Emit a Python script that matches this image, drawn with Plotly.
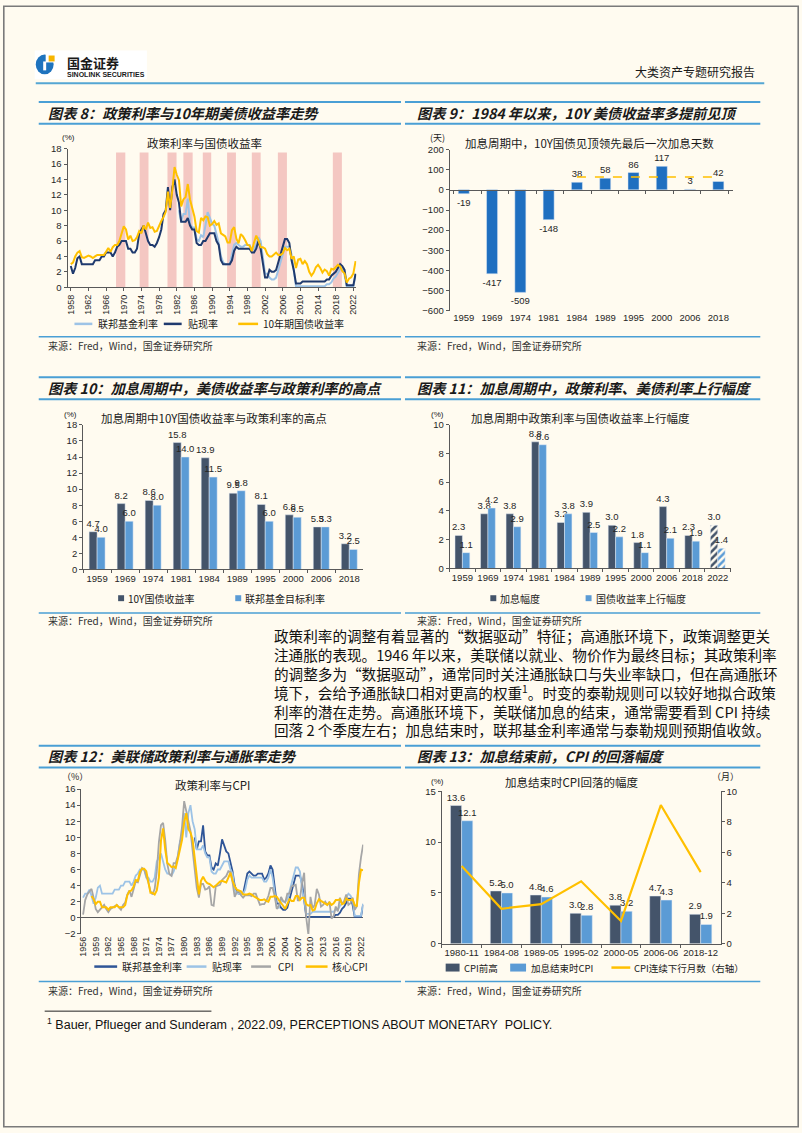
import plotly.graph_objects as go

W, H = 802, 1133
def X(p): return p / W
def Y(p): return 1 - p / H

BG = "#FFFBF0"
LAT = "Liberation Sans, Arial, Noto Sans CJK SC, sans-serif"
CJK = "Noto Sans CJK SC, Liberation Sans, sans-serif"
TXT = "#1a1a1a"
RULE = "#4A9FD5"
AX = "#595959"

# ======================= DATA =======================
# Semi-annual observations (Jan / Jul), %
discount_start = 1956.0
discount_rate = [
    2.50, 3.00,  3.00, 3.50,  2.75, 1.75,  2.50, 3.75,  4.00, 3.00,   # 1956-1960
    3.00, 3.00,  3.00, 3.00,  3.00, 3.50,  3.50, 3.50,  4.00, 4.00,   # 1961-1965
    4.50, 4.50,  4.50, 4.00,  4.50, 5.25,  5.50, 6.00,  6.00, 6.00,   # 1966-1970
    5.00, 5.00,  4.50, 4.50,  5.00, 7.00,  7.50, 8.00,  7.00, 6.00,   # 1971-1975
    5.50, 5.50,  5.25, 5.75,  6.50, 7.50,  9.50, 10.00, 13.00, 10.00, # 1976-1980
    13.00, 14.00, 12.00, 11.00, 8.50, 8.50, 8.50, 9.00, 8.00, 7.50,   # 1981-1985
    7.50, 5.75,  5.50, 5.50,  6.00, 6.00,  6.50, 7.00,  7.00, 7.00,   # 1986-1990
    6.00, 5.50,  3.50, 3.00,  3.00, 3.00,  3.00, 3.50,  4.75, 5.25,   # 1991-1995
    5.00, 5.00,  5.00, 5.00,  5.00, 5.00,  4.50, 4.50,  5.00, 6.00,   # 1996-2000
    5.00, 3.25,  1.25, 1.25,  2.25, 2.00,  2.00, 2.25,  3.25, 4.25,   # 2001-2005
    5.25, 6.25,  6.25, 5.75,  3.50, 2.25,  0.50, 0.50,  0.50, 0.75,   # 2006-2010
    0.75, 0.75,  0.75, 0.75,  0.75, 0.75,  0.75, 0.75,  0.75, 0.75,   # 2011-2015
    1.00, 1.00,  1.50, 1.75,  2.00, 2.50,  3.00, 2.75,  2.25, 0.25,   # 2016-2020
    0.25, 0.25,  0.25, 1.75,                                          # 2021-2022
]
fed_target_start = 1982.5
fed_target = [
    10.00,                                                            # 1982 H2
    8.50, 9.50,  9.50, 11.50,  8.25, 7.75,  7.75, 6.25,  6.00, 6.75,  # 1983-1987
    6.50, 8.00,  9.75, 9.00,  8.25, 8.00,  6.75, 5.75,  4.00, 3.25,   # 1988-1992
    3.00, 3.00,  3.00, 4.25,  5.50, 5.75,  5.50, 5.25,  5.25, 5.50,   # 1993-1997
    5.50, 5.50,  4.75, 5.00,  5.50, 6.50,  6.00, 3.75,  1.75, 1.75,   # 1998-2002
    1.25, 1.00,  1.00, 1.25,  2.25, 3.25,  4.25, 5.25,  5.25, 5.25,   # 2003-2007
    4.25, 2.00,  0.125, 0.125, 0.125, 0.125, 0.125, 0.125, 0.125, 0.125,  # 2008-2012
    0.125, 0.125, 0.125, 0.125, 0.125, 0.125, 0.375, 0.375, 0.625, 1.125, # 2013-2017
    1.375, 1.875, 2.375, 2.375, 1.625, 0.125, 0.125, 0.125, 0.125, 1.625, # 2018-2022
]
ust_start = 1958.0
ust10y = [
    3.0, 3.2,  4.0, 4.5,  4.7, 3.9,  3.8, 3.9,  4.1, 4.0,    # 1958-1962
    3.8, 4.0,  4.2, 4.2,  4.2, 4.2,  4.6, 5.1,  4.6, 5.2,    # 1963-1967
    5.5, 5.5,  6.0, 7.0,  7.9, 7.5,  6.2, 6.7,  6.0, 6.1,    # 1968-1972
    6.5, 7.3,  7.0, 8.0,  7.5, 8.4,  7.7, 7.8,  7.2, 7.3,    # 1973-1977
    8.0, 8.6,  9.1, 9.8,  12.4, 10.3, 12.6, 15.6, 14.6, 13.9,# 1978-1982
    10.5, 11.4, 11.7, 13.4, 11.4, 10.3, 9.2, 7.3, 7.1, 9.0,  # 1983-1987
    8.7, 9.2,  9.1, 8.0,  8.2, 8.6,  8.1, 8.3,  7.0, 6.8,    # 1988-1992
    6.6, 5.8,  5.8, 7.4,  7.8, 6.3,  5.7, 6.9,  6.6, 6.1,    # 1993-1997
    5.5, 5.4,  4.7, 5.8,  6.7, 6.1,  5.2, 5.2,  5.0, 4.3,    # 1998-2002
    4.0, 4.0,  4.2, 4.5,  4.2, 4.2,  4.4, 5.1,  4.8, 5.0,    # 2003-2007
    3.7, 4.0,  2.5, 3.6,  3.7, 3.0,  3.4, 3.0,  2.0, 1.5,    # 2008-2012
    1.9, 2.6,  2.9, 2.5,  1.9, 2.3,  2.1, 1.5,  2.4, 2.3,    # 2013-2017
    2.6, 2.9,  2.7, 2.1,  1.8, 0.6,  1.1, 1.3,  1.8, 3.4,    # 2018-2022
]
cpi_start = 1956.0
cpi = [
    0.4, 2.2,  2.9, 3.2,  3.6, 2.5,  1.1, 0.7,  1.0, 1.4,    # 1956-1960
    1.6, 1.1,  0.7, 1.1,  1.3, 1.4,  1.6, 1.3,  1.0, 1.6,    # 1961-1965
    1.9, 2.9,  3.4, 2.6,  3.6, 4.5,  4.4, 5.4,  6.2, 6.0,    # 1966-1970
    5.3, 4.4,  3.3, 2.9,  3.6, 5.7,  9.4, 11.5, 11.8, 9.7,   # 1971-1975
    6.7, 5.4,  5.2, 6.8,  6.8, 7.7,  9.3, 11.3, 14.5, 13.1,  # 1976-1980
    11.8, 10.8, 8.4, 6.4, 3.7, 2.5,  4.2, 4.2,  3.5, 3.6,    # 1981-1985
    3.9, 1.6,  1.5, 3.9,  4.0, 4.1,  4.7, 5.0,  5.2, 5.8,    # 1986-1990
    5.7, 4.4,  2.6, 3.2,  3.3, 2.8,  2.5, 2.8,  2.8, 2.8,    # 1991-1995
    2.7, 3.0,  3.0, 2.2,  1.6, 1.7,  1.7, 2.1,  2.7, 3.7,    # 1996-2000
    3.7, 2.7,  1.1, 1.5,  2.6, 2.1,  1.9, 3.0,  3.0, 3.9,    # 2001-2005
    4.0, 4.1,  2.1, 2.4,  4.3, 5.6,  0.0, -2.1, 2.6, 1.2,    # 2006-2010
    1.6, 3.6,  2.9, 1.4,  1.6, 2.0,  1.6, 2.0, -0.1, 0.2,    # 2011-2015
    1.4, 0.8,  2.5, 1.7,  2.1, 2.9,  1.6, 1.8,  2.5, 1.0,    # 2016-2020
    1.4, 5.4,  7.5, 9.1,                                      # 2021-2022
]
core_start = 1958.0
core_cpi = [
    2.7, 2.3,  1.7, 2.0,  2.0, 1.3,  1.3, 1.3,  1.0, 1.3,    # 1958-1962
    1.3, 1.3,  1.6, 1.3,  1.3, 1.3,  1.6, 2.8,  3.3, 3.4,    # 1963-1967
    3.9, 4.7,  4.6, 5.7,  6.1, 6.1,  5.8, 4.5,  3.1, 3.1,    # 1968-1972
    2.9, 3.4,  5.0, 9.6,  11.1, 8.5, 6.8, 6.6,  6.3, 6.4,    # 1973-1977
    6.2, 7.3,  8.5, 9.7,  11.9, 13.0, 11.0, 10.6, 9.7, 7.4,  # 1978-1982
    4.9, 2.9,  4.6, 5.1,  4.6, 4.3,  4.2, 4.0,  3.8, 4.0,    # 1983-1987
    4.3, 4.5,  4.6, 4.5,  4.4, 5.0,  5.6, 4.6,  3.9, 3.5,    # 1988-1992
    3.4, 3.3,  2.9, 2.9,  2.9, 3.0,  2.9, 2.7,  2.5, 2.4,    # 1993-1997
    2.2, 2.2,  2.3, 2.1,  2.0, 2.6,  2.6, 2.7,  2.6, 2.2,    # 1998-2002
    1.9, 1.5,  1.1, 1.8,  2.3, 2.1,  2.1, 2.7,  2.7, 2.2,    # 2003-2007
    2.5, 2.5,  1.7, 1.5,  1.6, 0.9,  1.0, 1.8,  2.3, 2.1,    # 2008-2012
    1.9, 1.7,  1.6, 1.9,  1.6, 1.8,  2.2, 2.2,  2.3, 1.7,    # 2013-2017
    1.8, 2.4,  2.2, 2.2,  2.3, 1.6,  1.4, 4.3,  6.0, 5.9,    # 2018-2022
]
# Chart 8 shaded rate-hike cycles (years)
hike_start = [1968.25, 1973.6, 1979.9, 1983.5, 1987.9, 1993.4, 1999.0, 2004.9, 2017.35]
hike_end = [1970.35, 1975.6, 1981.95, 1985.6, 1989.8, 1995.4, 2001.0, 2006.95, 2019.4]
hike_band_top = 17.5

# Chart 9
c9_years = ["1959", "1969", "1974", "1981", "1984", "1989", "1995", "2000", "2006", "2018"]
c9_days = [-19, -417, -509, -148, 38, 58, 86, 117, 3, 42]
c9_ref_years = ["1984", "1989", "1995", "2000", "2006", "2018"]
c9_ref_level = 64

# Chart 10
c10_years = ["1959", "1969", "1974", "1981", "1984", "1989", "1995", "2000", "2006", "2018"]
c10_ust_high = [4.7, 8.2, 8.6, 15.8, 13.9, 9.5, 8.1, 6.8, 5.3, 3.2]
c10_fed_high = [4.0, 6.0, 8.0, 14.0, 11.5, 9.8, 6.0, 6.5, 5.3, 2.5]

# Chart 11
c11_years = ["1959", "1969", "1974", "1981", "1984", "1989", "1995", "2000", "2006", "2018", "2022"]
c11_hike = [2.3, 3.8, 3.8, 8.8, 3.2, 3.9, 3.0, 1.8, 4.3, 2.3, 3.0]
c11_ust_rise = [1.1, 4.2, 2.9, 8.6, 3.8, 2.5, 2.2, 1.1, 2.1, 1.9, 1.4]

# Chart 13
c13_dates = ["1980-11", "1984-08", "1989-05", "1995-02", "2000-05", "2006-06", "2018-12"]
c13_cpi_peak = [13.6, 5.2, 4.8, 3.0, 3.8, 4.7, 2.9]
c13_cpi_end = [12.1, 5.0, 4.6, 2.8, 3.2, 4.3, 1.9]
c13_months = [5.1, 2.3, 2.6, 4.1, 1.5, 9.1, 4.7]

# ======================= FIGURE =======================
def semi(start, n):
    return [start + 0.5 * i for i in range(n)]

t_disc = semi(discount_start, len(discount_rate))
t_fed = semi(fed_target_start, len(fed_target))
t_ust = semi(ust_start, len(ust10y))
t_cpi = semi(cpi_start, len(cpi))
t_core = semi(core_start, len(core_cpi))

c_pink = "#F4C7C2"
c_navy8 = "#1F3A6E"
c_lb8 = "#9DC3E6"
c_yel = "#FFC000"
c_dark = "#44546A"
c_light = "#5B9BD5"
c_blue9 = "#1F6FC0"
c_blue12 = "#2F5597"
c_gray = "#A6A6A6"
VAL = dict(size=9.5, color="#262626", family=LAT)

fig = go.Figure()

# ---- Chart 8
fig.add_trace(go.Bar(x=[(a + b) / 2 for a, b in zip(hike_start, hike_end)],
                     y=[hike_band_top] * len(hike_start),
                     width=[b - a for a, b in zip(hike_start, hike_end)],
                     marker=dict(color=c_pink, line=dict(width=0)),
                     xaxis="x", yaxis="y", hoverinfo="skip"))
start8 = t_disc.index(1958.0)
fig.add_trace(go.Scatter(x=t_fed, y=fed_target, mode="lines", line=dict(color=c_lb8, width=2),
                         xaxis="x", yaxis="y"))
fig.add_trace(go.Scatter(x=t_disc[start8:], y=discount_rate[start8:], mode="lines",
                         line=dict(color=c_navy8, width=2), xaxis="x", yaxis="y"))
fig.add_trace(go.Scatter(x=t_ust, y=ust10y, mode="lines", line=dict(color=c_yel, width=2),
                         xaxis="x", yaxis="y"))

# ---- Chart 9
fig.add_trace(go.Bar(x=c9_years, y=c9_days, width=0.39, marker=dict(color=c_blue9),
                     text=[str(v) for v in c9_days], textposition="outside", textfont=VAL,
                     constraintext="none", cliponaxis=False, xaxis="x2", yaxis="y2"))
fig.add_trace(go.Scatter(x=c9_ref_years, y=[c9_ref_level] * len(c9_ref_years), mode="lines",
                         line=dict(color=c_yel, width=1.5, dash="dash"), xaxis="x2", yaxis="y2"))
# invisible carrier so the zero-line category axis (ticks at boundaries) is drawn
fig.add_trace(go.Scatter(x=c9_years, y=c9_days, mode="markers", marker=dict(opacity=0),
                         hoverinfo="skip", xaxis="x7", yaxis="y2"))

# ---- Chart 10
bw10 = 0.285
fig.add_trace(go.Bar(x=c10_years, y=c10_ust_high, width=bw10, offset=-bw10, marker=dict(color=c_dark),
                     texttemplate="%{y:.1f}", textposition="outside", constraintext="none",
                     textfont=VAL, cliponaxis=False, xaxis="x3", yaxis="y3"))
fig.add_trace(go.Bar(x=c10_years, y=c10_fed_high, width=bw10, offset=0, marker=dict(color=c_light),
                     texttemplate="%{y:.1f}", textposition="outside", constraintext="none",
                     textfont=VAL, cliponaxis=False, xaxis="x3", yaxis="y3"))

# ---- Chart 11
bw11 = 0.29
pat11 = [""] * (len(c11_years) - 1) + ["/"]
fig.add_trace(go.Bar(x=c11_years, y=c11_hike, width=bw11, offset=-bw11,
                     marker=dict(color=c_dark, pattern=dict(shape=pat11, fillmode="replace", size=5, solidity=0.5)),
                     texttemplate="%{y:.1f}", textposition="outside", constraintext="none",
                     textfont=VAL, cliponaxis=False, xaxis="x4", yaxis="y4"))
fig.add_trace(go.Bar(x=c11_years, y=c11_ust_rise, width=bw11, offset=0,
                     marker=dict(color=c_light, pattern=dict(shape=pat11, fillmode="replace", size=5, solidity=0.5)),
                     texttemplate="%{y:.1f}", textposition="outside", constraintext="none",
                     textfont=VAL, cliponaxis=False, xaxis="x4", yaxis="y4"))

# ---- Chart 12
fig.add_trace(go.Scatter(x=t_fed, y=fed_target, mode="lines", line=dict(color=c_blue12, width=1.8),
                         xaxis="x5", yaxis="y5"))
fig.add_trace(go.Scatter(x=t_disc, y=discount_rate, mode="lines", line=dict(color=c_lb8, width=1.8),
                         xaxis="x5", yaxis="y5"))
fig.add_trace(go.Scatter(x=t_cpi, y=cpi, mode="lines", line=dict(color=c_gray, width=1.8),
                         xaxis="x5", yaxis="y5"))
fig.add_trace(go.Scatter(x=t_core, y=core_cpi, mode="lines", line=dict(color=c_yel, width=2),
                         xaxis="x5", yaxis="y5"))

# ---- Chart 13
bw13 = 0.28
fig.add_trace(go.Bar(x=c13_dates, y=c13_cpi_peak, width=bw13, offset=-bw13, marker=dict(color=c_dark),
                     texttemplate="%{y:.1f}", textposition="outside", constraintext="none",
                     textfont=VAL, cliponaxis=False, xaxis="x6", yaxis="y6"))
fig.add_trace(go.Bar(x=c13_dates, y=c13_cpi_end, width=bw13, offset=0, marker=dict(color=c_light),
                     texttemplate="%{y:.1f}", textposition="outside", constraintext="none",
                     textfont=VAL, cliponaxis=False, xaxis="x6", yaxis="y6"))
fig.add_trace(go.Scatter(x=c13_dates, y=c13_months, mode="lines", line=dict(color=c_yel, width=2.2),
                         xaxis="x6", yaxis="y7"))

# ======================= AXES =======================
def axstyle(**kw):
    d = dict(showgrid=False, zeroline=False, showline=True, linecolor=AX, linewidth=1,
             ticks="outside", ticklen=3, tickcolor=AX, tickwidth=1,
             tickfont=dict(size=9.5, color="#262626", family=LAT), fixedrange=True)
    d.update(kw)
    return d

small = dict(size=9, color="#262626", family=LAT)
zero9_px = 145 + (307.7 - 145) * 200 / 800
layout_axes = dict(
    xaxis=axstyle(domain=[X(65), X(356)], range=[1957.26, 2022.67], tickmode="linear", tick0=1958,
                  dtick=4, tickangle=-90, anchor="y", tickfont=small),
    yaxis=axstyle(domain=[Y(284), Y(144)], range=[0, 18], dtick=2, anchor="x"),
    xaxis2=axstyle(domain=[X(450), X(735)], type="category", anchor="y2", showline=False, ticks="",
                   tickangle=0, categoryorder="array", categoryarray=c9_years),
    xaxis7=axstyle(domain=[X(450), X(735)], type="category", anchor="free", position=Y(zero9_px),
                   overlaying="x2", tickson="boundaries", showticklabels=False, ticklen=3,
                   categoryorder="array", categoryarray=c9_years),
    yaxis2=axstyle(domain=[Y(307.7), Y(145)], range=[-600, 200], dtick=100, anchor="x2"),
    xaxis3=axstyle(domain=[X(80.7), X(363)], type="category", anchor="y3", tickson="boundaries",
                   tickangle=0),
    yaxis3=axstyle(domain=[Y(569), Y(423)], range=[0, 18], dtick=2, anchor="x3"),
    xaxis4=axstyle(domain=[X(450), X(733)], type="category", anchor="y4", tickson="boundaries",
                   tickangle=0),
    yaxis4=axstyle(domain=[Y(568), Y(422.7)], range=[0, 10], dtick=2, anchor="x4"),
    xaxis5=axstyle(domain=[X(79), X(363)], range=[1955.6, 2022.54], tickmode="linear", tick0=1956,
                   dtick=3, tickangle=-90, anchor="y5", showline=False, ticks="", tickfont=small),
    yaxis5=axstyle(domain=[Y(937), Y(790.7)], range=[-2, 16], dtick=2, anchor="x5",
                   zeroline=True, zerolinecolor=AX, zerolinewidth=1),
    xaxis6=axstyle(domain=[X(442), X(723)], type="category", anchor="y6", tickson="boundaries",
                   tickangle=0),
    yaxis6=axstyle(domain=[Y(947), Y(793)], range=[0, 15], dtick=5, anchor="x6"),
    yaxis7=axstyle(range=[0, 10], dtick=2, anchor="x6", overlaying="y6", side="right"),
)

# ======================= PAGE DECORATION =======================
shapes, ann = [], []

def hline(x0, x1, y, color=RULE, width=1.5):
    shapes.append(dict(type="line", xref="paper", yref="paper", x0=X(x0), x1=X(x1), y0=Y(y), y1=Y(y),
                       line=dict(color=color, width=width)))

def rect(x0, x1, y0, y1, color, kind="rect", line=None):
    shapes.append(dict(type=kind, xref="paper", yref="paper", x0=X(x0), x1=X(x1), y0=Y(y1), y1=Y(y0),
                       fillcolor=color, line=line or dict(width=0)))

def text(x, y, s, size=10, xanchor="left", family=CJK, color=TXT):
    ann.append(dict(x=X(x), y=Y(y), xref="paper", yref="paper", text=s, showarrow=False,
                    xanchor=xanchor, yanchor="middle", font=dict(size=size, family=family, color=color)))

# page frame
shapes.append(dict(type="rect", xref="paper", yref="paper", x0=X(0.8), x1=X(801.2), y0=Y(1131.8), y1=Y(0.2),
                   line=dict(color="#7a7a7a", width=1.6), fillcolor="rgba(0,0,0,0)"))

# header / logo
rect(32, 145, 45, 74, "#FFFFFF")
rect(33, 51, 49, 69, "#1E73BE", kind="circle")
rect(43, 53, 46, 57, "#FFFFFF")
rect(46, 52, 50, 56, "#F7B500")
rect(40.5, 43.5, 56, 65, "#FFFFFF")
text(62, 57, "<b>国金证券</b>", size=13)
text(62, 69.5, "<b>SINOLINK SECURITIES</b>", size=7, family=LAT)
text(760, 66, "大类资产专题研究报告", size=12, xanchor="right")
hline(33, 767, 78, color="#55A6D3", width=2)

# chart title bars
rows = [(97, 108, 119, 334, 343), (375, 386, 397, 613, 621), (747, 757, 769, 985, 994)]
cols = [(36, 401, 43), (405, 763, 415)]
titles = [["图表 8：政策利率与10年期美债收益率走势", "图表 9：1984 年以来，10Y 美债收益率多提前见顶"],
          ["图表 10：加息周期中，美债收益率与政策利率的高点", "图表 11：加息周期中，政策利率、美债利率上行幅度"],
          ["图表 12：美联储政策利率与通胀率走势", "图表 13：加息结束前，CPI 的回落幅度"]]
for r, (ytop, ytit, ybot, ysrc, ysrct) in enumerate(rows):
    for c, (x0, x1, xt) in enumerate(cols):
        hline(x0, x1, ytop, width=2)
        hline(x0, x1, ybot, width=2)
        hline(x0, x1, ysrc, width=1.5)
        text(xt, ytit, "<b><i>" + titles[r][c] + "</i></b>", size=14.2)
        text(xt, ysrct, "来源：Fred，Wind，国金证券研究所", size=10, color="#333")

# inner titles & unit labels
text(203, 138, "政策利率与国债收益率", size=11.5, xanchor="center")
text(66, 133, "(%)", size=8, xanchor="center", family=LAT)
text(591, 138, "加息周期中，10Y国债见顶领先最后一次加息天数", size=11.5, xanchor="center")
text(438, 133, "(天)", size=9, xanchor="center")
text(213, 416, "加息周期中10Y国债收益率与政策利率的高点", size=11.5, xanchor="center")
text(68, 412, "(%)", size=8, xanchor="center", family=LAT)
text(582, 416, "加息周期中政策利率与国债收益率上行幅度", size=11.5, xanchor="center")
text(438, 412, "(%)", size=8, xanchor="center", family=LAT)
text(212, 787, "政策利率与CPI", size=11.5, xanchor="center")
text(73, 778, "（%）", size=9, xanchor="center")
text(573, 784, "加息结束时CPI回落的幅度", size=11.5, xanchor="center")
text(438, 783, "(%)", size=8, xanchor="center", family=LAT)
text(728, 778, "（月）", size=9, xanchor="center")

# legends
def leg_line(x0, x1, y, color, label, tx, size=10, width=2.5):
    hline(x0, x1, y, color=color, width=width)
    text(tx, y, label, size=size)

def leg_box(x0, x1, y0, y1, color, label, tx, size=10):
    rect(x0, x1, y0, y1, color)
    text(tx, (y0 + y1) / 2, label, size=size)

leg_line(72, 90, 321, c_lb8, "联邦基金利率", 94)
leg_line(162, 180, 321, c_navy8, "贴现率", 184)
leg_line(237, 257, 321, c_yel, "10年期国债收益率", 260)

leg_box(116, 122, 595, 601, c_dark, "10Y国债收益率", 124)
leg_box(234, 240, 595, 601, c_light, "联邦基金目标利率", 242)

leg_box(491, 497, 595, 601, c_dark, "加息幅度", 499)
leg_box(587, 593, 595, 601, c_light, "国债收益率上行幅度", 595)

leg_line(92, 115, 970, c_blue12, "联邦基金利率", 118)
leg_line(185, 205, 970, c_lb8, "贴现率", 209)
leg_line(250, 270, 970, c_gray, "CPI", 275)
leg_line(305, 327, 970, c_yel, "核心CPI", 329)

leg_box(446, 460, 967, 975, c_dark, "CPI前高", 462, size=9.5)
leg_box(511, 527, 967, 975, c_light, "加息结束时CPI", 530, size=9.5)
leg_line(613, 632, 971, c_yel, "CPI连续下行月数（右轴）", 634, size=9.5)

# body paragraph
para = [
    "政策利率的调整有着显著的“数据驱动”特征；高通胀环境下，政策调整更关",
    "注通胀的表现。1946 年以来，美联储以就业、物价作为最终目标；其政策利率",
    "的调整多为“数据驱动”，通常同时关注通胀缺口与失业率缺口，但在高通胀环",
    "境下，会给予通胀缺口相对更高的权重<sup>1</sup>。时变的泰勒规则可以较好地拟合政策",
    "利率的潜在走势。高通胀环境下，美联储加息的结束，通常需要看到 CPI 持续",
    "回落 2 个季度左右；加息结束时，联邦基金利率通常与泰勒规则预期值收敛。",
]
for i, line in enumerate(para):
    text(271, 636 + 19 * i, line, size=14.6, color="#111")

# footnote
hline(42, 210, 1015, color="#222", width=1)
text(42, 1028, "<sup>1</sup> Bauer, Pflueger and Sunderam , 2022.09, PERCEPTIONS ABOUT MONETARY  POLICY.",
     size=12.5, family=LAT, color="#111")

fig.update_layout(
    width=W, height=H, margin=dict(l=0, r=0, t=0, b=0),
    paper_bgcolor=BG, plot_bgcolor="rgba(0,0,0,0)",
    showlegend=False, barmode="overlay",
    font=dict(family=LAT, color=TXT),
    shapes=shapes, annotations=ann,
    **layout_axes,
)

fig.write_html("out.html")
